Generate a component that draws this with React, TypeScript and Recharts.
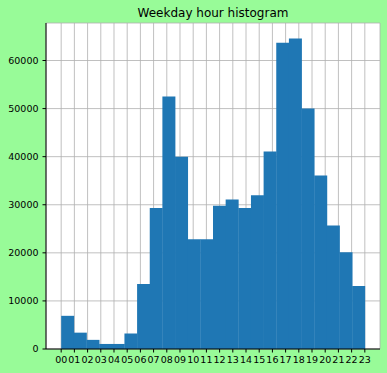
import { Bar, BarChart, CartesianGrid, XAxis, YAxis } from "recharts";

// histogram: 24 bins spread over hours 0..23
const hourTicks = [
  0, 1, 2, 3, 4, 5, 6, 7, 8, 9, 10, 11, 12, 13, 14, 15, 16, 17, 18, 19, 20, 21,
  22, 23,
];
const hourLabels = [
  "00", "01", "02", "03", "04", "05", "06", "07", "08", "09", "10", "11",
  "12", "13", "14", "15", "16", "17", "18", "19", "20", "21", "22", "23",
];
const binCounts = [
  6900, 3400, 1900, 1050, 1050, 3200, 13500, 29300, 52500, 40000, 22800,
  22800, 29800, 31100, 29300, 32000, 41100, 63700, 64600, 50000, 36100, 25700,
  20100, 13100,
];
const countTicks = [0, 10000, 20000, 30000, 40000, 50000, 60000];

const binWidth = 23 / binCounts.length;
const data = binCounts.map((count, i) => ({
  mid: (i + 0.5) * binWidth,
  count,
}));

const xDomain: [number, number] = [-1.15, 24.15];
const yDomain: [number, number] = [0, 67800];
const font = "'DejaVu Sans', sans-serif";
const tickStyle = { fontSize: 9.5, fill: "#000", fontFamily: font };

export default function App() {
  return (
    <div
      style={{
        position: "absolute",
        left: 0,
        top: 0,
        width: 387,
        height: 373,
        background: "#98fb98",
      }}
    >
      <div
        style={{
          position: "absolute",
          left: 46,
          width: 334,
          top: 5,
          height: 16,
          lineHeight: "16px",
          textAlign: "center",
          fontFamily: font,
          fontSize: 12,
          color: "#000",
        }}
      >
        Weekday hour histogram
      </div>
      <BarChart
        width={387}
        height={373}
        data={data}
        barCategoryGap={0}
        margin={{ top: 23, right: 7, bottom: 0, left: 0 }}
      >
        <CartesianGrid fill="#fff" stroke="none" />
        <XAxis
          dataKey="mid"
          type="number"
          domain={xDomain}
          ticks={hourTicks}
          interval={0}
          tickFormatter={(v: number) => hourLabels[v]}
          height={24}
          tickSize={3.5}
          tickMargin={3.5}
          tick={tickStyle}
          axisLine={{ stroke: "#000" }}
          tickLine={{ stroke: "#000" }}
          allowDataOverflow
        />
        <XAxis
          xAxisId="top"
          orientation="top"
          dataKey="mid"
          type="number"
          domain={xDomain}
          height={0}
          tick={false}
          tickLine={false}
          axisLine={{ stroke: "#000" }}
          allowDataOverflow
        />
        <YAxis
          type="number"
          domain={yDomain}
          ticks={countTicks}
          width={46}
          tickSize={3.5}
          tickMargin={4}
          tick={tickStyle}
          axisLine={{ stroke: "#000" }}
          tickLine={{ stroke: "#000" }}
          allowDataOverflow
        />
        <YAxis
          yAxisId="right"
          orientation="right"
          type="number"
          domain={yDomain}
          width={0}
          tick={false}
          tickLine={false}
          axisLine={{ stroke: "#000" }}
          allowDataOverflow
        />
        <Bar dataKey="count" fill="#1f77b4" isAnimationActive={false} />
        <CartesianGrid stroke="#b0b0b0" strokeWidth={0.8} />
      </BarChart>
    </div>
  );
}
